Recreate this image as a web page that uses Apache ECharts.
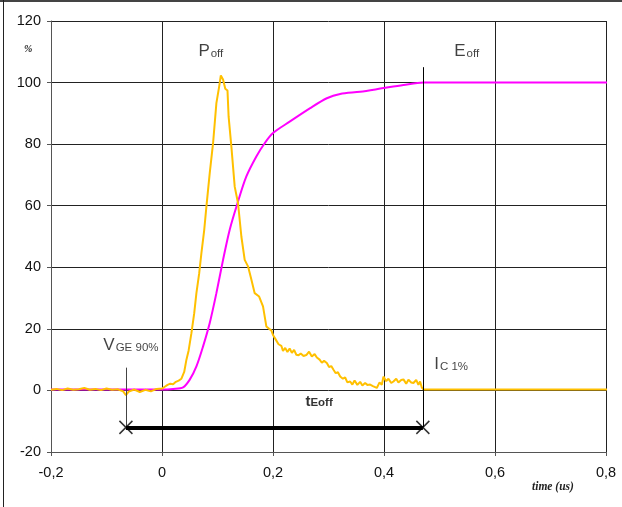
<!DOCTYPE html>
<html>
<head>
<meta charset="utf-8">
<script src="https://cdn.jsdelivr.net/npm/echarts@6/dist/echarts.min.js"></script>
<style>
html,body{margin:0;padding:0;background:#fff;}
#chart{width:622px;height:507px;}
</style>
</head>
<body>
<div id="chart"></div>
<script>
// P_off (yellow) trace
var pTime = [-0.2,-0.19,-0.18,-0.17,-0.16,-0.15,-0.14,-0.13,-0.12,-0.11,-0.1,-0.09,-0.08,-0.07,-0.065,-0.06,-0.05,-0.04,-0.03,-0.02,-0.01,0,0.005,0.01,0.015,0.02,0.025,0.03,0.035,0.04,0.044,0.048,0.053,0.058,0.062,0.067,0.071,0.076,0.08,0.086,0.092,0.098,0.103,0.106,0.11,0.114,0.118,0.12,0.125,0.131,0.137,0.143,0.149,0.155,0.161,0.167,0.175,0.182,0.188,0.193,0.197,0.2,0.205,0.21,0.215,0.218,0.222,0.226,0.23,0.234,0.238,0.242,0.246,0.25,0.255,0.26,0.265,0.27,0.275,0.279,0.284,0.288,0.292,0.297,0.301,0.305,0.309,0.313,0.317,0.321,0.326,0.33,0.334,0.339,0.343,0.347,0.352,0.357,0.361,0.366,0.37,0.375,0.38,0.387,0.392,0.396,0.399,0.404,0.408,0.413,0.417,0.422,0.426,0.431,0.435,0.44,0.444,0.449,0.453,0.458,0.462,0.465,0.468,0.471,0.81];
var pValue = [0.2,0.5,0.1,0.6,0.2,0.4,0.8,0.2,0.5,0.1,0.6,0.2,0.4,-0.3,-1.5,-0.4,0.3,-0.5,0.2,-0.3,0.5,0.6,1.2,1.8,2.2,2.0,2.8,3.2,3.8,6,10,13,18.6,25,31.6,38,44.6,52,59.7,70.6,80.3,93.3,98.7,102.3,101,98,97.4,89,79.2,66.2,60.8,50,42.4,40.3,36,31.6,30.5,27.3,20.8,20,19.5,18,16.5,15,14.5,12.8,13.8,12.5,13.6,12.2,13.2,11.6,11.4,12.0,11.2,11.5,12.6,11.0,11.8,10.7,10.0,9.0,9.6,8.9,7.6,7.9,6.7,5.6,5.9,4.5,3.8,4.2,2.6,2.9,1.9,3.2,1.8,2.8,1.6,2.4,1.8,1.9,1.4,0.8,2.6,1.8,4.5,3.0,3.8,2.4,2.9,3.8,2.6,3.4,3.6,2.2,3.5,2.6,2.4,3.4,1.8,2.9,1.0,0.3,0.3];

// E_off (magenta) trace
var eTime = [-0.2,0,0.02,0.038,0.05,0.062,0.074,0.086,0.098,0.11,0.122,0.136,0.152,0.17,0.185,0.2,0.23,0.267,0.297,0.321,0.357,0.399,0.435,0.471,0.81];
var eValue = [0.3,0.3,0.5,1,3.5,7.8,14.3,21.9,31.6,42.4,52.2,60.8,69.5,76,80.3,83.6,87.3,91.7,94.9,96.3,97,98.2,99.2,100,100];

// markers: V_GE 90% time, I_C 1% time, t_Eoff bar level
var vgeTime = -0.065;
var icTime = 0.47;
var barLevel = -12;
var vgeTop = 7.4;
var icTop = 105;

// annotation labels
var annoText = ['P_off', 'E_off', 'V_GE', 'I_C', 't_Eoff'];
var annoX = [0.088, 0.549, -0.056, 0.521, 0.283];
var annoY = [110, 110.3, 14.7, 8.5, -3.7];
var annoRich = ['{m|P}{s|off}', '{m|E}{s|off}', '{m|V}{s|GE 90%}', '{m|I}{s|C 1%}', '{bm|t}{bs|Eoff}'];

var xTicks = {min: -0.2, max: 0.8, interval: 0.2};
var yTicks = {min: -20, max: 120, interval: 20};

function zip(a, b) { return a.map(function (v, i) { return [v, b[i]]; }); }

var chart = echarts.init(document.getElementById('chart'), null, {renderer: 'canvas'});
var FONT = '"Liberation Sans", Arial, sans-serif';

var option = {
  animation: false,
  backgroundColor: '#fff',
  grid: {left: 51, right: 16, top: 21, bottom: 55, show: false},
  xAxis: {
    type: 'value', min: xTicks.min, max: xTicks.max, interval: xTicks.interval,
    axisLine: {show: true, onZero: false, lineStyle: {color: '#555', width: 1}},
    axisTick: {show: true, length: 4, lineStyle: {color: '#555'}},
    axisLabel: {margin: 13, color: '#111', fontSize: 14.5, fontFamily: FONT,
      formatter: function (v) { return String(Math.round(v * 10) / 10).replace('.', ','); }},
    splitLine: {show: true, lineStyle: {color: '#222', width: 1}}
  },
  yAxis: {
    type: 'value', min: yTicks.min, max: yTicks.max, interval: yTicks.interval,
    axisLine: {show: true, onZero: false, lineStyle: {color: '#555', width: 1}},
    axisTick: {show: true, length: 4, lineStyle: {color: '#555'}},
    axisLabel: {margin: 10, color: '#111', fontSize: 14.5, fontFamily: FONT},
    splitLine: {show: true, lineStyle: {color: '#222', width: 1}}
  },
  series: [
    {
      name: 'Eoff', type: 'line', data: zip(eTime, eValue), showSymbol: false, smooth: 0.3,
      clip: false, lineStyle: {color: '#FF00FF', width: 2}, z: 3
    },
    {
      name: 'Poff', type: 'line', data: zip(pTime, pValue), showSymbol: false,
      clip: false, lineStyle: {color: '#FFC000', width: 2}, z: 4,
      markLine: {
        silent: true, symbol: 'none', animation: false, label: {show: false},
        data: [
          [{coord: [vgeTime, vgeTop], lineStyle: {color: '#444', width: 1, type: 'solid'}}, {coord: [vgeTime, barLevel]}],
          [{coord: [icTime, icTop], lineStyle: {color: '#000', width: 1, type: 'solid'}}, {coord: [icTime, barLevel]}],
          [{coord: [vgeTime, barLevel], lineStyle: {color: '#000', width: 4, type: 'solid'}}, {coord: [icTime, barLevel]}]
        ]
      }
    },
    {
      name: 'ends', type: 'scatter', data: [[vgeTime, barLevel], [icTime, barLevel]],
      symbol: 'path://M0,0L10,10M10,0L0,10', symbolSize: 13, clip: false, z: 6,
      itemStyle: {color: 'rgba(0,0,0,0)', borderColor: '#000', borderWidth: 1.5}
    },
    {
      name: 'anno', type: 'scatter', symbolSize: 0, clip: false, z: 7, silent: true,
      data: annoX.map(function (x, i) { return {value: [x, annoY[i]], name: annoText[i]}; }),
      label: {
        show: true, position: 'inside',
        formatter: function (p) { return annoRich[p.dataIndex]; },
        rich: {
          m: {fontSize: 17, fontFamily: FONT, color: '#111', lineHeight: 17, verticalAlign: 'top'},
          s: {fontSize: 11.5, fontFamily: FONT, color: '#111', lineHeight: 12, padding: [8, 0, 0, 1], verticalAlign: 'bottom'},
          bm: {fontSize: 15, fontFamily: FONT, fontWeight: 'bold', color: '#000', lineHeight: 15, verticalAlign: 'top'},
          bs: {fontSize: 11.5, fontFamily: FONT, fontWeight: 'bold', color: '#000', lineHeight: 12, padding: [6, 0, 0, 0], verticalAlign: 'bottom'}
        }
      }
    }
  ],
  graphic: [
    {type: 'line', shape: {x1: 0, y1: 1, x2: 622, y2: 1}, style: {stroke: '#444', lineWidth: 2}},
    {type: 'line', shape: {x1: 3.5, y1: 0, x2: 3.5, y2: 507}, style: {stroke: '#222', lineWidth: 1}},
    {type: 'text', left: 24, top: 44, style: {text: '%', fontSize: 10, fontWeight: 'bold', fontStyle: 'italic', fontFamily: '"Liberation Serif", serif', fill: '#222'}},
    {type: 'text', left: 532, top: 481, style: {text: 'time (us)', fontSize: 11.5, fontWeight: 'bold', fontStyle: 'italic', fontFamily: '"Liberation Serif", serif', fill: '#222'}}
  ]
};
chart.setOption(option);
</script>
</body>
</html>
